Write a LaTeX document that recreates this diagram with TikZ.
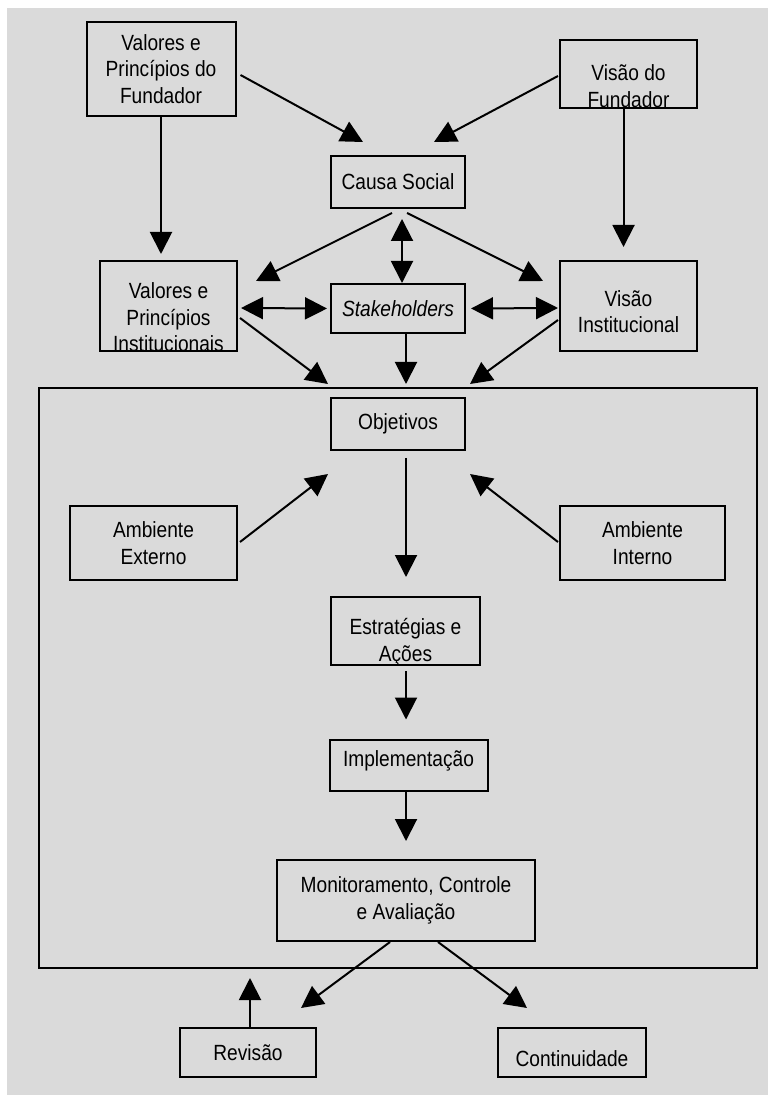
\documentclass[tikz,border=0pt]{standalone}
\usepackage{fontspec}
\setmainfont[FakeStretch=0.87]{Liberation Sans}
\usetikzlibrary{arrows.meta,calc}

\definecolor{bggray}{gray}{0.855}
\newcommand{\boxfont}{\fontsize{11}{13.3}\selectfont}

\tikzset{
  boxsize/.style 2 args={minimum width=#1*0.5pt, minimum height=#2*0.5pt},
  box/.style={draw, line width=1pt, fill=bggray, align=center, inner sep=0pt, font=\boxfont},
  txt/.style={align=center, inner sep=0pt, font=\boxfont},
  arr/.style={-{Triangle[length=11pt,width=11pt]}, line width=1pt},
  darr/.style={{Triangle[length=11pt,width=11pt]}-{Triangle[length=11pt,width=11pt]}, line width=1pt}
}

\begin{document}
\begin{tikzpicture}[x=0.5pt,y=-0.5pt]
    \useasboundingbox (0,0) rectangle (768,1095);
    \fill [bggray] (7,8) rectangle (768,1095);

    % the big frame
    \node [draw, line width=1pt, boxsize={718}{580}] (frame) at (398,678) {};

    % top part
    \node [box, boxsize={149}{94}] (vpf) at (161,69) {Valores e\\Princípios do\\Fundador};
    \node [box, boxsize={137}{68}, label={[txt,yshift=-6pt]center:{Visão do\\Fundador}}] (vf) at (628.5,74) {};
    \node [box, boxsize={134}{52}] (cs) at (398,182) {Causa Social};
    \node [box, boxsize={137}{90}, label={[txt,yshift=-5.75pt]center:{Valores e\\Princípios\\Institucionais}}] (vpi) at (168.5,306) {};
    \node [box, boxsize={134}{49}] (sh) at (398,308.5) {\itshape Stakeholders};
    \node [box, boxsize={137}{90}, label={[txt,yshift=-2.75pt]center:{Visão\\Institucional}}] (vi) at (628.5,306) {};

    % inside the frame
    \node [box, boxsize={134}{52}] (obj) at (398,424) {Objetivos};
    \node [box, boxsize={167}{74}] (ae) at (153.5,543) {Ambiente\\Externo};
    \node [box, boxsize={165}{74}] (ai) at (642.5,543) {Ambiente\\Interno};
    \node [box, boxsize={149}{68}, label={[txt,yshift=-5.5pt]center:{Estratégias e\\Ações}}] (estr) at (405.5,631) {};
    \node [box, boxsize={158}{51}, label={[txt,yshift=2pt]center:{Implementação}}] (impl) at (408.5,765) {};
    \node [box, boxsize={258}{81}] (mca) at (406,900.5) {Monitoramento, Controle\\e Avaliação};

    % below the frame
    \node [box, boxsize={136}{49}] (rev) at (248,1052.5) {Revisão};
    \node [box, boxsize={148}{49}, label={[txt,yshift=-3pt]center:{Continuidade}}] (cont) at (572,1052.5) {};

    \draw [arr] ($(vpf.east)+(4,6)$) -- ($(cs.north)+(-35,-13)$);
    \draw [arr] ($(vf.west)+(-1,2)$) -- ($(cs.north)+(36,-13)$);
    \draw [arr] (vpf.south) -- ($(vpf.south |- vpi.north)+(0,-6)$);
    \draw [arr] ($(vf.south)+(-5,0)$) -- ($(vi.north)+(-5,-13)$);

    \draw [arr] ($(cs.south)+(-6,4)$) -- ($(vpi.north east)+(18,21)$);
    \draw [arr] ($(cs.south)+(9,4)$) -- ($(vi.north west)+(-16,21)$);
    \draw [darr] ($(cs.south)+(4,10)$) -- ($(sh.north)+(4,0)$);
    \draw [darr] ($(vpi.east)+(3,2)$) -- ($(sh.west)+(-3,0)$);
    \draw [darr] ($(sh.east)+(5,0)$) -- ($(vi.west)+(-1,2)$);

    \draw [arr] ($(vpi.east)+(2,12)$) -- ($(frame.north)+(-70,-3)$);
    \draw [arr] ($(sh.south)+(8,0)$) -- ($(frame.north)+(8,-3)$);
    \draw [arr] ($(vi.west)+(-1,14)$) -- ($(frame.north)+(72,-3)$);

    \draw [arr] ($(ae.east)+(2,-1)$) -- ($(obj.south)+(-70,23)$);
    \draw [arr] ($(ai.west)+(-1,-1)$) -- ($(obj.south)+(72,23)$);
    \draw [arr] ($(obj.south)+(8,7)$) -- ($(estr.north)+(0.5,-19)$);
    \draw [arr] ($(estr.south)+(0.5,5)$) -- ($(impl.north)+(-2.5,-19)$);
    \draw [arr] ($(impl.south)+(-2.5,0)$) -- ($(mca.north)+(0,-18)$);

    \draw [arr] ($(mca.south)+(-16,0)$) -- ($(rev.north)+(53,-19)$);
    \draw [arr] ($(mca.south)+(32,0)$) -- ($(cont.north)+(-45,-19)$);
    \draw [arr] ($(rev.north)+(2,0)$) -- ($(frame.south)+(-148,9)$);
\end{tikzpicture}
\end{document}
